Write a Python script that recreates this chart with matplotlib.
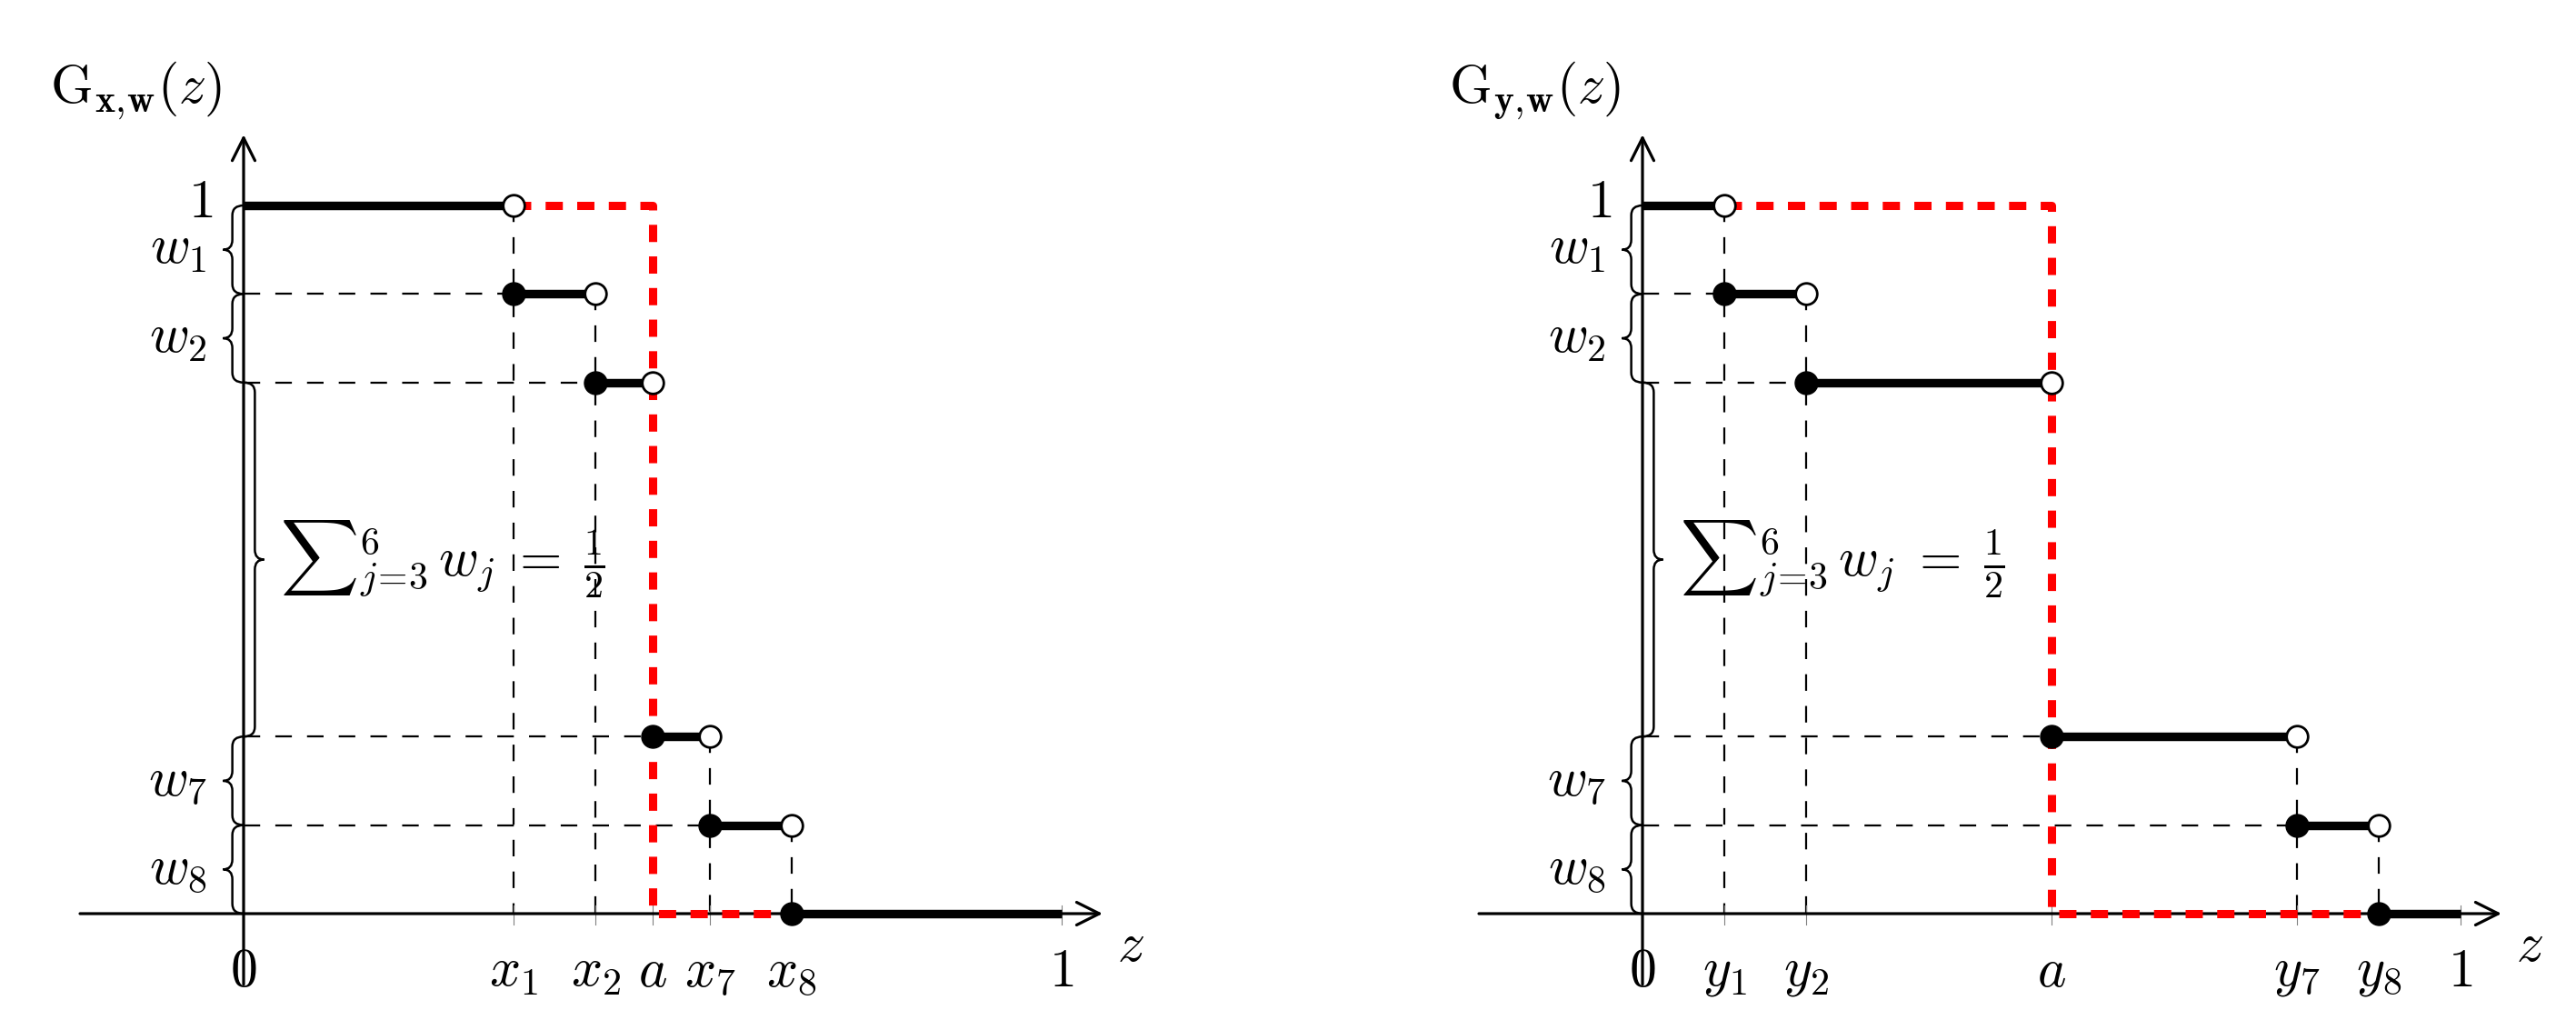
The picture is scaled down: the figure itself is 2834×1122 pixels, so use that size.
import matplotlib
matplotlib.use('Agg')
import matplotlib.pyplot as plt
from matplotlib.path import Path
from matplotlib.patches import PathPatch

plt.rcParams['mathtext.fontset'] = 'cm'

# step levels of G (top to bottom), jump points of the two panels
levels = [1, 0.875, 0.75, 0.25, 0.125, 0]
a_val = 0.5
x_jumps = [0.33, 0.43, 0.5, 0.57, 0.67]
y_jumps = [0.1, 0.2, 0.5, 0.8, 0.9]
x_labels = ['$x_1$', '$x_2$', '$a$', '$x_7$', '$x_8$']
y_labels = ['$y_1$', '$y_2$', '$a$', '$y_7$', '$y_8$']
titles = [r'$\mathrm{G}_{\mathbf{x,}\!\mathbf{w}}(z)$',
          r'$\mathrm{G}_{\mathbf{y,}\!\mathbf{w}}(z)$']

# braces: (upper, lower, label)
w_braces = [(1, 0.875, '$w_1$'), (0.875, 0.75, '$w_2$'),
            (0.25, 0.125, '$w_7$'), (0.125, 0, '$w_8$')]
sum_brace = (0.75, 0.25, r'${\sum}_{j\!=\!3}^{6}\,w_j\;=\;\frac{1}{2}$')

W, H = 2834, 1122
FS = 43
ux, uy = 900, 779           # pixels per unit
xlim = (-0.29, 1.2)
ylim = (-0.14, 1.28)


def make_axes(fig, ox, oy):
    # place an axes so that data (0,0) lands at pixel (ox, oy from top)
    left = (ox + xlim[0] * ux) / W
    bottom = (H - oy + ylim[0] * uy) / H
    ax = fig.add_axes([left, bottom, (xlim[1] - xlim[0]) * ux / W,
                       (ylim[1] - ylim[0]) * uy / H])
    ax.set_xlim(xlim)
    ax.set_ylim(ylim)
    ax.axis('off')
    return ax


def brace(ax, y_top, y_bot, amp, r=0.014):
    h = amp * 0.55
    ym = (y_top + y_bot) / 2
    verts = [(0, y_bot), (h, y_bot), (h, y_bot + r),
             (h, ym - r), (h, ym), (amp, ym),
             (h, ym), (h, ym + r),
             (h, y_top - r), (h, y_top), (0, y_top)]
    codes = [Path.MOVETO, Path.CURVE3, Path.CURVE3,
             Path.LINETO, Path.CURVE3, Path.CURVE3,
             Path.CURVE3, Path.CURVE3,
             Path.LINETO, Path.CURVE3, Path.CURVE3]
    ax.add_patch(PathPatch(Path(verts, codes), fill=False, lw=1.8,
                           ec='black', zorder=3, clip_on=False))


def panel(ax, jumps, labels, title):
    arrow = dict(arrowstyle='->,head_length=0.6,head_width=0.3', lw=2.3,
                 color='black', mutation_scale=30, shrinkA=0, shrinkB=0)
    ax.annotate('', xy=(1.05, 0), xytext=(-0.2, 0), arrowprops=arrow)
    ax.annotate('', xy=(0, 1.1), xytext=(0, -0.1), arrowprops=arrow)

    # small grey ticks
    for xt in jumps + [1]:
        ax.plot([xt, xt], [0.012, -0.016], color='grey', lw=0.8, zorder=2)

    n = len(jumps)
    for i, lev in enumerate(levels):
        start = 0 if i == 0 else jumps[i - 1]
        end = jumps[i] if i < n else 1
        ax.plot([start, end], [lev, lev], color='black', lw=6.8,
                solid_capstyle='butt', zorder=5)
        if i > 0 and lev > 0:
            ax.plot([0, start], [lev, lev], color='black', lw=1.6,
                    dashes=(8.2, 7.5), zorder=1)
        if i < n and jumps[i] != a_val:
            ax.plot([end, end], [lev, 0], color='black', lw=1.6,
                    dashes=(8.2, 7.5), zorder=1)

    # red dashed path
    ax.plot([jumps[0], a_val, a_val, jumps[-1]], [1, 1, 0, 0], color='red',
            lw=6.5, dashes=(2.1, 1.75), solid_joinstyle='miter', zorder=4)

    for i in range(1, len(levels)):
        ax.plot(jumps[i - 1], levels[i], 'o', ms=18, color='black', zorder=6)
    for i in range(n):
        ax.plot(jumps[i], levels[i], 'o', ms=17, mfc='white', mec='black',
                mew=2, zorder=6)

    for top, bot, lab in w_braces:
        brace(ax, top, bot, -0.025)
        ax.text(-0.045, (top + bot) / 2 - 0.02, lab, fontsize=FS,
                ha='right', va='baseline')
    top, bot, lab = sum_brace
    brace(ax, top, bot, 0.025)
    ax.text(0.045, (top + bot) / 2, lab, fontsize=FS, ha='left', va='center')

    ax.text(-0.038, 1.005, '$1$', fontsize=FS, ha='right', va='center')
    ax.text(0, -0.044, '$0$', fontsize=FS, ha='center', va='top')
    ax.text(1, -0.044, '$1$', fontsize=FS, ha='center', va='top')
    for xt, lab in zip(jumps, labels):
        ax.text(xt, -0.044, lab, fontsize=FS, ha='center', va='top')
    ax.text(1.084, -0.046, '$z$', fontsize=FS, ha='center', va='center')
    ax.text(-0.132, 1.162, title, fontsize=FS, ha='center', va='center')


fig = plt.figure(figsize=(W / 100, H / 100), dpi=100)
ax1 = make_axes(fig, 268, 1005)
ax2 = make_axes(fig, 1807, 1005)
panel(ax1, x_jumps, x_labels, titles[0])
panel(ax2, y_jumps, y_labels, titles[1])

plt.savefig('out.png', dpi=100)
